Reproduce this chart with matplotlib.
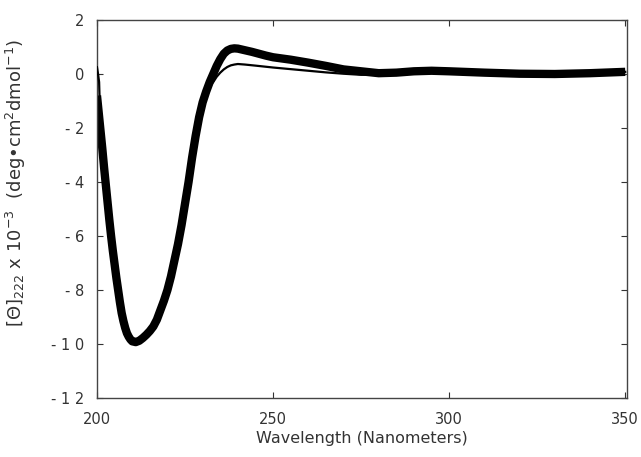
import matplotlib
matplotlib.use("Agg")
import matplotlib.pyplot as plt

# Thick (square-marker) series
wl_thick = [200, 200.5, 201, 201.5, 202, 202.5, 203, 203.5, 204, 204.5, 205, 205.5, 206, 206.5,
            207, 207.5, 208, 208.5, 209, 209.5, 210,
            211, 212, 213, 214, 215, 216, 217, 218, 219, 220, 221, 222, 223, 224, 225,
            226, 227, 228, 229, 230, 231, 232, 233, 234, 235, 236, 237, 238, 239, 240,
            242, 244, 246, 248, 250, 255, 260, 265, 270, 275, 280, 285, 290, 295, 300,
            310, 320, 330, 340, 350]
theta_thick = [-0.8, -1.45, -2.1, -2.75, -3.45, -4.1, -4.75, -5.4, -6.0, -6.55, -7.05, -7.55, -8.0, -8.45,
               -8.85, -9.15, -9.4, -9.6, -9.73, -9.83, -9.9,
               -9.93, -9.88, -9.78, -9.66, -9.52, -9.35, -9.1, -8.75, -8.4, -8.0, -7.5, -6.9, -6.3, -5.6, -4.8,
               -4.0, -3.1, -2.3, -1.6, -1.05, -0.65, -0.3, 0.0, 0.3, 0.55, 0.75, 0.87, 0.93, 0.95, 0.94,
               0.88, 0.82, 0.75, 0.68, 0.62, 0.53, 0.42, 0.3, 0.17, 0.1, 0.03, 0.05, 0.1, 0.12, 0.1,
               0.05, 0.01, 0.0, 0.03, 0.08]

# Thin (line) series
wl_thin = [200, 200.3, 200.6, 201, 201.5, 202, 202.5, 203, 203.5, 204, 204.5, 205, 205.5, 206, 206.5,
           207, 207.5, 208, 208.5, 209, 209.5, 210,
           211, 212, 213, 214, 215, 216, 217, 218, 219, 220, 221, 222, 223, 224, 225,
           226, 227, 228, 229, 230, 231, 232, 233, 234, 235, 236, 237, 238, 239, 240,
           242, 245, 250, 255, 260, 265, 270, 275, 280, 285, 290, 295, 300,
           310, 320, 330, 340, 350]
theta_thin = [0.25, 0.0, -0.3, -2.1, -2.75, -3.45, -4.1, -4.75, -5.4, -6.0, -6.55, -7.05, -7.55, -8.0, -8.45,
              -8.85, -9.15, -9.4, -9.6, -9.73, -9.83, -9.9,
              -9.93, -9.88, -9.78, -9.66, -9.52, -9.35, -9.1, -8.75, -8.4, -8.0, -7.5, -6.9, -6.3, -5.6, -4.8,
              -4.0, -3.1, -2.3, -1.6, -1.05, -0.7, -0.45, -0.3, -0.1, 0.05, 0.17, 0.26, 0.32, 0.35, 0.37,
              0.35, 0.31, 0.24, 0.18, 0.12, 0.06, 0.01, -0.03, -0.02, 0.03, 0.08, 0.11, 0.1,
              0.05, 0.01, 0.0, 0.03, 0.08]

x_ticks = [200, 250, 300, 350]
y_ticks = [-12, -10, -8, -6, -4, -2, 0, 2]
y_tick_labels = ["- 1 2", "- 1 0", "- 8", "- 6", "- 4", "- 2", "0", "2"]

plt.rcParams['font.family'] = ['DejaVu Sans']
plt.rcParams['mathtext.fontset'] = 'dejavusans'

fig = plt.figure(figsize=(6.41, 4.57), dpi=100)
ax = fig.add_axes([97/641, 59/457, 530/641, 378/457])

ax.plot(wl_thick, theta_thick, color='black', lw=6.0,
        solid_capstyle='butt', solid_joinstyle='round', zorder=2)
ax.plot(wl_thin, theta_thin, color='black', lw=1.6, zorder=3)

ax.set_xlim(200, 350.5)
ax.set_ylim(-12, 2)
ax.set_xticks(x_ticks)
ax.set_xticklabels([str(t) for t in x_ticks])
ax.set_yticks(y_ticks)
ax.set_yticklabels(y_tick_labels)

ax.tick_params(direction='in', length=4, width=0.8, top=True, right=True,
               labelsize=10.5, colors='#333333', pad=8)
ax.tick_params(axis='x', pad=10)
ax.tick_params(axis='y', pad=9)
for s in ax.spines.values():
    s.set_color('#444444')
    s.set_linewidth(1.0)

ax.set_xlabel('Wavelength (Nanometers)', fontsize=11.5, color='#333333', labelpad=3)
ax.set_ylabel(r'[$\Theta$]$_{222}$ x 10$^{-3}$  (deg•cm$^{2}$dmol$^{-1}$)',
              fontsize=13, color='#333333')
ax.yaxis.set_label_coords(-0.13, 0.57)

fig.savefig('out.png', dpi=100)
